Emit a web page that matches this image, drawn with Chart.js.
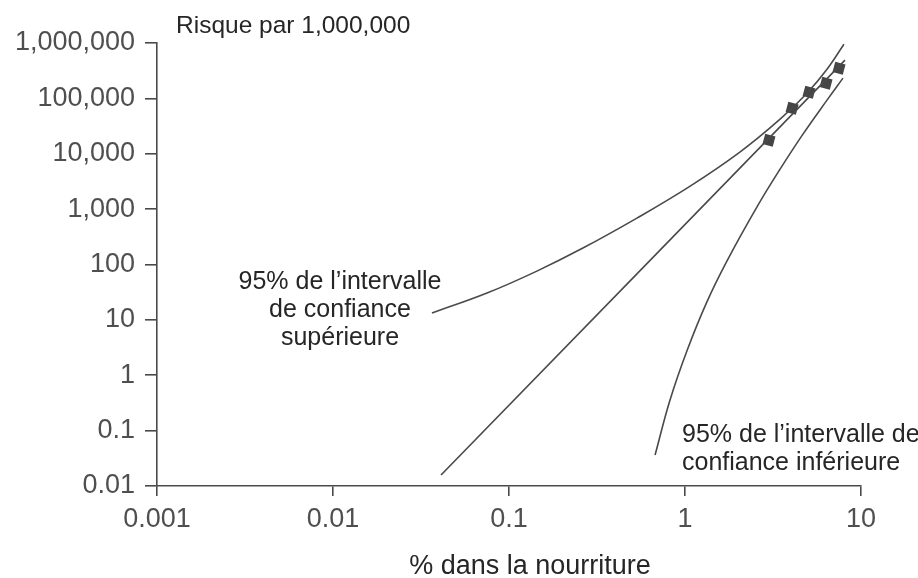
<!DOCTYPE html>
<html>
<head>
<meta charset="utf-8">
<script src="https://cdn.jsdelivr.net/npm/chart.js@4/dist/chart.umd.min.js"></script>
<style>
  html, body { margin: 0; padding: 0; background: #ffffff; }
  #wrap { width: 918px; height: 578px; }
</style>
</head>
<body>
<div id="wrap"><canvas id="c" width="918" height="578"></canvas></div>
<script>
// ---- data ----
const xTickValues = [0.001, 0.01, 0.1, 1, 10];
const xTickLabels = ['0.001', '0.01', '0.1', '1', '10'];
const yTickValues = [0.01, 0.1, 1, 10, 100, 1000, 10000, 100000, 1000000];
const yTickLabels = ['0.01', '0.1', '1', '10', '100', '1,000', '10,000', '100,000', '1,000,000'];

const upperX = [0.0365, 0.075, 0.144, 0.263, 0.533, 1.07, 2.05, 3.47, 4.93, 6.41, 8.0];
const upperY = [13.3, 30.5, 76, 198, 688, 2600, 10700, 42100, 124000, 336000, 951000];

const fitX = [0.0411, 8.11];
const fitY = [0.0158, 490000];

const lowerX = [0.676, 0.822, 1.03, 1.33, 1.73, 2.56, 3.47, 4.68, 6.41, 7.9];
const lowerY = [0.0363, 0.356, 2.85, 20.9, 115, 1087, 5270, 22600, 92900, 232000];

const obsX = [3.0, 4.06, 5.07, 6.33, 7.5];
const obsY = [17600, 66500, 129000, 188000, 351000];

const yAxisTitle = 'Risque par 1,000,000';
const xAxisTitle = '% dans la nourriture';
const upperNote = ['95% de l\u2019intervalle', 'de confiance', 'supérieure'];
const lowerNote = ['95% de l\u2019intervalle de', 'confiance inférieure'];

// ---- helpers ----
const pts = (xs, ys) => xs.map((x, i) => ({ x: x, y: ys[i] }));
const FONT = '"Liberation Sans", Arial, Helvetica, sans-serif';
const LINE = '#4a4a4a';
const TEXT = '#262626';
const TICKTXT = '#4f4f4f';

const textPlugin = {
  id: 'texts',
  afterDraw(chart) {
    const ctx = chart.ctx;
    ctx.save();
    ctx.fillStyle = TEXT;
    ctx.textBaseline = 'alphabetic';
    ctx.font = '24.5px ' + FONT;
    ctx.textAlign = 'left';
    ctx.fillText(yAxisTitle, 176, 33);

    ctx.font = '27px ' + FONT;
    ctx.textAlign = 'center';
    ctx.fillText(xAxisTitle, 530, 574);

    ctx.font = '25px ' + FONT;
    ctx.textAlign = 'center';
    upperNote.forEach((t, i) => ctx.fillText(t, 340, 289 + i * 28));

    ctx.textAlign = 'left';
    lowerNote.forEach((t, i) => ctx.fillText(t, 682, 442 + i * 28));
    ctx.restore();
  }
};

const lineDs = (data) => ({
  data: data,
  borderColor: LINE,
  borderWidth: 1.6,
  pointRadius: 0,
  fill: false,
  showLine: true,
  tension: 0.4,
  clip: false
});

new Chart(document.getElementById('c'), {
  type: 'scatter',
  data: {
    datasets: [
      lineDs(pts(upperX, upperY)),
      lineDs(pts(fitX, fitY)),
      lineDs(pts(lowerX, lowerY)),
      {
        data: pts(obsX, obsY),
        showLine: false,
        pointStyle: 'rect',
        pointRotation: 15,
        pointRadius: 7.5,
        pointBackgroundColor: '#454545',
        pointBorderColor: '#454545',
        pointBorderWidth: 0,
        clip: false
      }
    ]
  },
  options: {
    responsive: false,
    devicePixelRatio: 1,
    animation: false,
    layout: { padding: { top: 43, right: 57, left: 0, bottom: 0 } },
    plugins: {
      legend: { display: false },
      tooltip: { enabled: false },
      title: { display: false }
    },
    scales: {
      x: {
        type: 'logarithmic',
        min: 0.001,
        max: 10,
        afterBuildTicks: (s) => { s.ticks = xTickValues.map(v => ({ value: v })); },
        afterFit: (s) => { s.height = 92; },
        ticks: {
          autoSkip: false,
          maxRotation: 0,
          padding: 7,
          color: TICKTXT,
          font: { family: FONT, size: 27 },
          callback: (v, i) => xTickLabels[i]
        },
        grid: { drawOnChartArea: false, drawTicks: true, tickLength: 10, color: LINE, lineWidth: 1.6 },
        border: { display: true, color: LINE, width: 1.6 }
      },
      y: {
        type: 'logarithmic',
        min: 0.01,
        max: 1000000,
        afterBuildTicks: (s) => { s.ticks = yTickValues.map(v => ({ value: v })); },
        afterFit: (s) => { s.width = 157; },
        ticks: {
          autoSkip: false,
          padding: 10,
          color: TICKTXT,
          font: { family: FONT, size: 27 },
          callback: (v, i) => yTickLabels[i]
        },
        grid: { drawOnChartArea: false, drawTicks: true, tickLength: 12, color: LINE, lineWidth: 1.6 },
        border: { display: true, color: LINE, width: 1.6 }
      }
    }
  },
  plugins: [textPlugin]
});
</script>
</body>
</html>
